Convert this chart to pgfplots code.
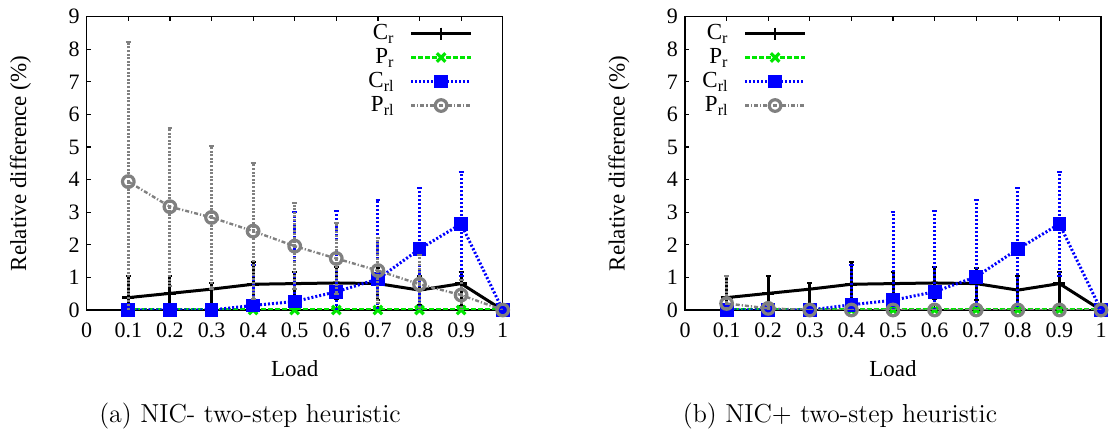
\documentclass[border=0pt]{standalone}
\usepackage{fontspec}
\newfontfamily\plotfont{Liberation Serif}
\usepackage{pgfplots}
\pgfplotsset{compat=1.18}
\usepackage{pgfplotstable}

\definecolor{cgreen}{RGB}{0,230,0}
\definecolor{cblue}{RGB}{0,0,255}
\definecolor{cgray}{RGB}{128,128,128}

% C_r (same in both panels)
\pgfplotstableread{
x   y    ep   em
0.1 0.38 0.66 0.66
0.2 0.51 0.53 0.53
0.3 0.64 0.20 0.50
0.4 0.79 0.69 0.69
0.5 0.81 0.37 0.37
0.6 0.83 0.50 0.50
0.7 0.81 0.49 0.49
0.8 0.61 0.42 0.46
0.9 0.81 0.37 0.70
1.0 0.00 0.00 0.00
}\tabCr
% P_r (same in both panels)
\pgfplotstableread{
x   y
0.1 0
0.2 0
0.3 0
0.4 0
0.5 0
0.6 0
0.7 0
0.8 0
0.9 0
1.0 0
}\tabPr
% C_rl, panel (a)
\pgfplotstableread{
x   y    e
0.1 0.00 0.00
0.2 0.00 0.00
0.3 0.00 0.00
0.4 0.14 1.24
0.5 0.26 2.76
0.6 0.56 2.49
0.7 0.95 2.42
0.8 1.87 1.86
0.9 2.64 1.60
1.0 0.00 0.00
}\tabCrlA
% P_rl, panel (a)
\pgfplotstableread{
x   y    e
0.1 3.94 4.27
0.2 3.17 2.43
0.3 2.84 2.20
0.4 2.42 2.08
0.5 1.96 1.33
0.6 1.58 1.08
0.7 1.21 0.99
0.8 0.79 0.90
0.9 0.46 0.45
1.0 0.00 0.00
}\tabPrlA
% C_rl, panel (b)
\pgfplotstableread{
x   y    e
0.1 0.00 0.00
0.2 0.00 0.00
0.3 0.00 0.00
0.4 0.16 1.22
0.5 0.30 2.72
0.6 0.56 2.49
0.7 1.02 2.35
0.8 1.87 1.86
0.9 2.64 1.60
1.0 0.00 0.00
}\tabCrlB
% P_rl, panel (b)
\pgfplotstableread{
x   y    e
0.1 0.20 0.84
0.2 0.05 0.10
0.3 0.00 0.00
0.4 0.00 0.00
0.5 0.00 0.00
0.6 0.00 0.00
0.7 0.00 0.00
0.8 0.00 0.00
0.9 0.00 0.00
1.0 0.00 0.00
}\tabPrlB

\pgfplotsset{
  myaxis/.style={
    scale only axis, width=208pt, height=146.65pt,
    xmin=0, xmax=1, ymin=0, ymax=9,
    xtick={0,0.1,0.2,0.3,0.4,0.5,0.6,0.7,0.8,0.9,1},
    ytick={0,1,2,3,4,5,6,7,8,9},
    xtick pos=both, ytick pos=left, tick align=inside,
    major tick length=2pt,
    axis line style={line width=0.6pt},
    every tick/.style={black, line width=0.6pt},
    tick label style={font=\plotfont\fontsize{11}{13}\selectfont},
    /pgf/number format/assume math mode=true,
    xticklabel style={yshift=-2.8pt},
    xlabel={Load}, ylabel={Relative difference (\%)},
    every axis x label/.style={at={(axis description cs:0.5,-0.201)}, anchor=center, font=\plotfont\fontsize{11.5}{13}\selectfont},
    every axis y label/.style={at={(axis description cs:-0.159,0.5)}, anchor=center, rotate=90, font=\plotfont\fontsize{11.5}{13}\selectfont},
    clip mode=individual,
    legend cell align=right, legend plot pos=right,
    legend style={draw=none, fill=none, inner sep=0pt, row sep=0pt, column sep=7.5pt,
      font=\plotfont\fontsize{11.5}{13}\selectfont,
      nodes={inner sep=0pt, text height=9pt, text depth=3pt}},
  },
  legend image code/.code={\draw[mark repeat=2,mark phase=2,#1] plot coordinates {(0pt,0pt) (15pt,0pt) (30pt,0pt)};},
  crstyle/.style={black, solid, line width=1.5pt, mark=+, mark size=3pt, mark options={solid, line width=1.3pt},
    error bars/.cd, y dir=both, y explicit,
    error bar style={black, solid, line width=1.5pt},
    error mark options={black, solid, line width=1pt, mark size=1.2pt, rotate=90}},
  prstyle/.style={cgreen, line width=1.5pt, dash pattern=on 2.5pt off 1pt, mark=x, mark size=3pt, mark options={solid, line width=1.6pt}},
  crlstyle/.style={cblue, line width=1.5pt, dash pattern=on 1pt off 1pt, mark=square*, mark size=2.7pt, mark options={solid},
    error bars/.cd, y dir=both, y explicit,
    error bar style={cblue, line width=1.5pt, dash pattern=on 1pt off 1pt},
    error mark options={cblue, solid, line width=1pt, mark size=1.2pt, rotate=90}},
  prlstyle/.style={cgray, line width=1.2pt, dash pattern=on 2pt off 1pt on 0.6pt off 1pt, mark=o, mark size=2.9pt, mark options={solid, line width=1.6pt},
    error bars/.cd, y dir=both, y explicit,
    error bar style={cgray, line width=1.5pt, dash pattern=on 1pt off 0.8pt},
    error mark options={cgray, solid, line width=1pt, mark size=1.2pt, rotate=90}},
}

\begin{document}
\begin{tikzpicture}
\useasboundingbox (0,0) rectangle (556pt,214pt);
\begin{axis}[myaxis, at={(43.35pt,59pt)}, anchor=south west,
  legend style={at={(axis description cs:1,1)}, anchor=north east, xshift=-14.85pt, yshift=-2.2pt}]
\addplot[crstyle] table[x=x, y=y, y error plus=ep, y error minus=em] {\tabCr};
\addlegendentry{C\textsubscript{r}}
\addplot[prstyle] table[x=x, y=y] {\tabPr};
\addlegendentry{P\textsubscript{r}}
\addplot[crlstyle] table[x=x, y=y, y error=e] {\tabCrlA};
\addlegendentry{C\textsubscript{rl}}
\addplot[prlstyle] table[x=x, y=y, y error=e] {\tabPrlA};
\addlegendentry{P\textsubscript{rl}}
\end{axis}
\begin{axis}[myaxis, at={(342.5pt,59pt)}, anchor=south west,
  legend style={at={(axis description cs:0,1)}, anchor=north west, xshift=8.5pt, yshift=-2.2pt}]
\addplot[crstyle] table[x=x, y=y, y error plus=ep, y error minus=em] {\tabCr};
\addlegendentry{C\textsubscript{r}}
\addplot[prstyle] table[x=x, y=y] {\tabPr};
\addlegendentry{P\textsubscript{r}}
\addplot[crlstyle] table[x=x, y=y, y error=e] {\tabCrlB};
\addlegendentry{C\textsubscript{rl}}
\addplot[prlstyle] table[x=x, y=y, y error=e] {\tabPrlB};
\addlegendentry{P\textsubscript{rl}}
\end{axis}
\node[anchor=center, font=\fontsize{13}{15}\selectfont] at (125pt,5.75pt) {(a) NIC- two-step heuristic};
\node[anchor=center, font=\fontsize{13}{15}\selectfont] at (420pt,5.75pt) {(b) NIC+ two-step heuristic};
\end{tikzpicture}
\end{document}
